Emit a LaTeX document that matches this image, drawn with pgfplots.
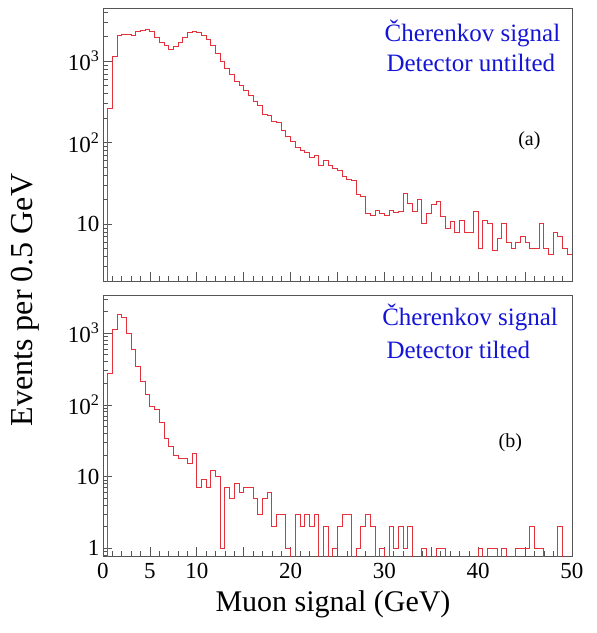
\documentclass[border=0pt]{standalone}
\usepackage{pgfplots}
\pgfplotsset{compat=1.18}
\usepackage{pgfplotstable}
\usepackage{fontspec}
\setmainfont{Liberation Serif}
\definecolor{histred}{RGB}{228,50,60}
\definecolor{txtblue}{RGB}{20,20,215}
\definecolor{framegray}{RGB}{85,85,85}

\pgfplotstableread{
x y
0 0.01
0.5 260
1 1150
1.5 2100
2 2150
2.5 2150
3 2100
3.5 2300
4 2400
4.5 2450
5 2300
5.5 1950
6 1700
6.5 1550
7 1400
7.5 1500
8 1700
8.5 1950
9 2250
9.5 2300
10 2250
10.5 2100
11 1850
11.5 1550
12 1250
12.5 1000
13 820
13.5 680
14 570
14.5 510
15 440
15.5 380
16 320
16.5 290
17 220
17.5 215
18 180
18.5 175
19 140
19.5 118
20 104
20.5 88
21 80
21.5 76
22 66
22.5 70
23 53
23.5 60
24 52
24.5 48
25 45
25.5 38
26 35
26.5 34
27 23
27.5 22
28 13.6
28.5 12.8
29 14.8
29.5 13.6
30 12.8
30.5 14.8
31 14
31.5 14.2
32 24
32.5 18
33 14.2
33.5 19.8
34 10.2
34.5 13.6
35 17.2
35.5 18.9
36 12.3
36.5 8.9
37 10.7
37.5 8
38 11.2
38.5 8
39 8
39.5 14.2
40 5
40.5 11.2
41 10.2
41.5 4.8
42 6.6
42.5 10.2
43 6
43.5 5
44 6
44.5 7
45 6
45.5 5
46 5
46.5 10.2
47 5
47.5 4.2
48 8
48.5 7
49 5
49.5 4.2
50 4.2
}\topdata

\pgfplotstableread{
x y
0 0.01
0.5 272
1 1140
1.5 1815
2 1630
2.5 1000
3 590
3.5 344
4 212
4.5 138
5 95
5.5 85
6 56
6.5 34
7 26
7.5 20
8 18
8.5 18
9 15
9.5 21
10 7
10.5 9
11 7
11.5 12
12 10
12.5 1
13 7
13.5 5
14 8
14.5 6
15 7
15.5 7
16 5
16.5 3
17 5
17.5 6
18 2
18.5 3
19 3
19.5 1
20 0.01
20.5 3
21 2
21.5 3
22 2
22.5 3
23 0.01
23.5 2
24 0.01
24.5 1
25 2
25.5 3
26 3
26.5 0.01
27 1
27.5 2
28 3
28.5 2
29 0.01
29.5 1
30 0.01
30.5 2
31 1
31.5 2
32 1
32.5 2
33 0.01
33.5 0.01
34 1
34.5 0.01
35 0.01
35.5 1
36 1
36.5 0.01
37 0.01
37.5 0.01
38 0.01
38.5 0.01
39 0.01
39.5 0.01
40 1
40.5 0.01
41 1
41.5 1
42 0.01
42.5 1
43 0.01
43.5 0.01
44 1
44.5 1
45 1
45.5 2
46 1
46.5 1
47 0.01
47.5 0.01
48 0.01
48.5 2
49 0.01
49.5 0.01
50 0.01
}\botdata

\begin{document}
\begin{tikzpicture}
\begin{axis}[name=top, at={(0pt,0pt)}, anchor=north west,
  scale only axis, width=469pt, height=273pt,
  xmin=0, xmax=50, ymode=log, ymin=2, ymax=4500,
  axis line style={framegray, line width=0.8pt},
  tick align=inside, tick pos=left,
  xtick={0,5,...,50}, minor xtick={1,2,3,4,6,7,8,9,11,12,13,14,16,17,18,19,21,22,23,24,26,27,28,29,31,32,33,34,36,37,38,39,41,42,43,44,46,47,48,49},
  xticklabels={},
  ytick={10,100,1000},
  yticklabels={10,10\textsuperscript{2},10\textsuperscript{3}},
  minor ytick={2,3,4,5,6,7,8,9,20,30,40,50,60,70,80,90,200,300,400,500,600,700,800,900,2000,3000,4000},
  major tick length=9pt, minor tick length=5pt,
  tick style={framegray, line width=0.6pt},
  tick label style={font=\rmfamily\fontsize{23}{27}\selectfont}]
  \addplot[const plot, histred, line width=0.9pt] table[x=x, y=y] {\topdata};
  \node[anchor=base west, txtblue, font=\rmfamily\fontsize{25}{30}\selectfont] at (axis description cs:0.593,0.877) {Čherenkov signal};
  \node[anchor=base west, txtblue, font=\rmfamily\fontsize{25}{30}\selectfont] at (axis description cs:0.597,0.769) {Detector untilted};
  \node[anchor=base west, font=\rmfamily\fontsize{20}{24}\selectfont] at (axis description cs:0.878,0.498) {(a)};
\end{axis}
\begin{axis}[name=bot, at={(0pt,-287pt)}, anchor=north west,
  scale only axis, width=469pt, height=261pt,
  xmin=0, xmax=50, ymode=log, ymin=0.78, ymax=3400,
  axis line style={framegray, line width=0.8pt},
  tick align=inside, tick pos=left,
  xtick={0,5,...,50}, minor xtick={1,2,3,4,6,7,8,9,11,12,13,14,16,17,18,19,21,22,23,24,26,27,28,29,31,32,33,34,36,37,38,39,41,42,43,44,46,47,48,49},
  xticklabels={0,5,10,,20,,30,,40,,50},
  xticklabel style={yshift=-4pt},
  ytick={1,10,100,1000},
  yticklabels={1,10,10\textsuperscript{2},10\textsuperscript{3}},
  minor ytick={0.8,0.9,2,3,4,5,6,7,8,9,20,30,40,50,60,70,80,90,200,300,400,500,600,700,800,900,2000,3000},
  major tick length=9pt, minor tick length=5pt,
  tick style={framegray, line width=0.6pt},
  tick label style={font=\rmfamily\fontsize{23}{27}\selectfont}]
  \addplot[const plot, histred, line width=0.9pt] table[x=x, y=y] {\botdata};
  \node[anchor=base west, txtblue, font=\rmfamily\fontsize{25}{30}\selectfont] at (axis description cs:0.588,0.885) {Čherenkov signal};
  \node[anchor=base west, txtblue, font=\rmfamily\fontsize{25}{30}\selectfont] at (axis description cs:0.597,0.755) {Detector tilted};
  \node[anchor=base west, font=\rmfamily\fontsize{20}{24}\selectfont] at (axis description cs:0.836,0.414) {(b)};
\end{axis}
\node[anchor=base, font=\rmfamily\fontsize{30}{36}\selectfont] at (230pt,-603pt) {Muon signal (GeV)};
\node[rotate=90, anchor=base, font=\rmfamily\fontsize{32}{38}\selectfont] at (-70pt,-292pt) {Events per 0.5 GeV};
\pgfresetboundingbox
\path (-103pt,8pt) rectangle (494pt,-625pt);
\end{tikzpicture}
\end{document}
